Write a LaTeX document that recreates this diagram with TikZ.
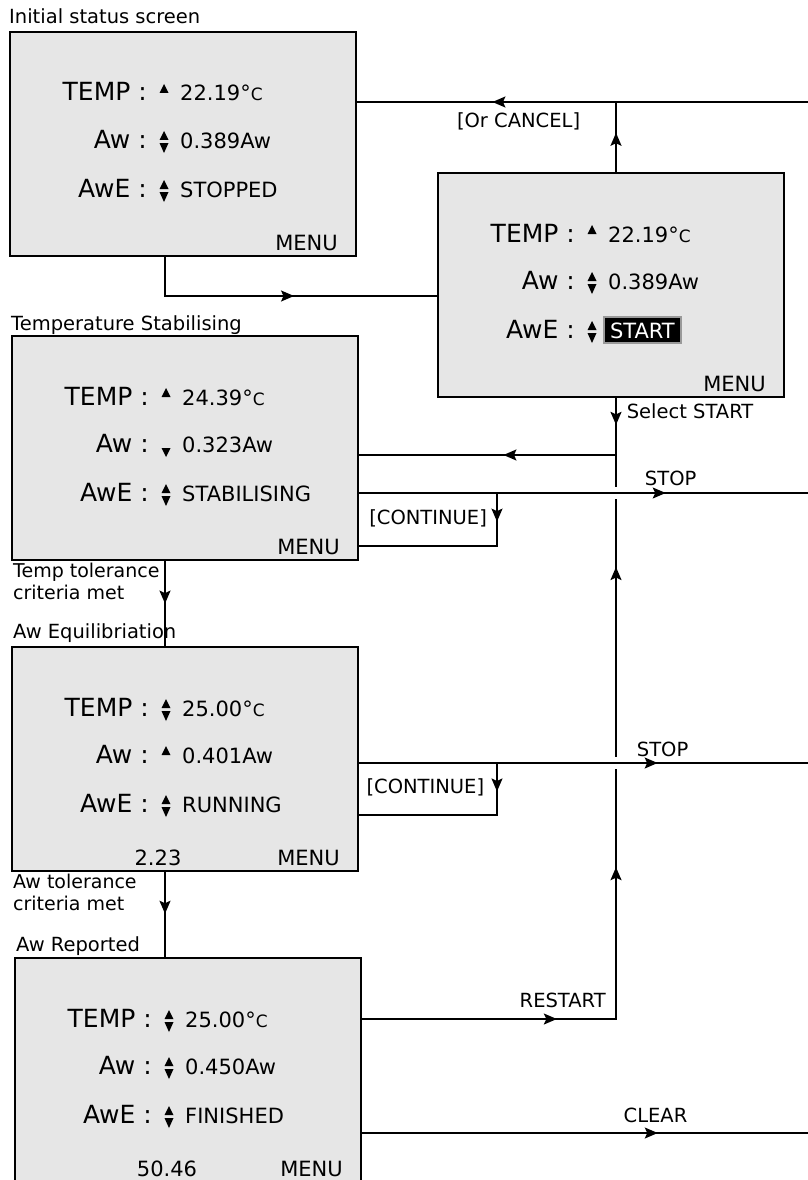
\documentclass[tikz,border=0pt]{standalone}
\usepackage{fontspec}
\setmainfont{DejaVu Sans}
\usetikzlibrary{arrows.meta,decorations.markings}
\definecolor{screengray}{RGB}{230,230,230}
\newcommand{\degC}{°{\fontsize{17}{17}\selectfont C}}
\newcommand{\iconup}[1]{\fill #1 ++(-4.5,-8) -- ++(9,0) -- ++(-4.5,-9) -- cycle;}
\newcommand{\icondown}[1]{\fill #1 ++(-4.5,-4) -- ++(9,0) -- ++(-4.5,9) -- cycle;}
\newcommand{\iconupdown}[1]{\iconup{#1}\fill #1 ++(-4.5,-5) -- ++(9,0) -- ++(-4.5,10) -- cycle;}
\tikzset{
  flowtip/.tip={Stealth[length=13pt,width=11pt,inset=2.5pt]},
  screen/.style={shape=rectangle, draw=black, fill=screengray, line width=2.2pt, minimum width=346pt, minimum height=224pt, anchor=north west},
  field/.style={anchor=base east, inner sep=0pt, font=\fontsize{25}{30}\selectfont},
  reading/.style={anchor=base west, inner sep=0pt, font=\fontsize{21}{25}\selectfont},
  menu/.style={anchor=base east, inner sep=0pt, font=\fontsize{21}{25}\selectfont},
  hilite/.style={anchor=base west, fill=black, text=white, draw=black!40, line width=2pt, inner xsep=6pt, inner ysep=5pt, font=\fontsize{21}{25}\selectfont},
  title/.style={anchor=base west, inner sep=0pt, font=\fontsize{19.5}{23}\selectfont},
  tag/.style={anchor=base, inner sep=0pt, font=\fontsize{19.5}{23}\selectfont},
  note/.style={anchor=north west, align=left, inner sep=0pt, font=\fontsize{19}{22}\selectfont},
  flow/.style={draw=black, line width=1.6pt},
  tipat/.style={postaction={decorate, decoration={markings, mark=at position #1 with {\arrow{flowtip}}}}}
}
\begin{document}
\begin{tikzpicture}[x=1pt, y=-1pt]
  \useasboundingbox (0,0) rectangle (808,1180);
  % screens
  \node[screen] (initial) at (9,31) {};
  \node[title] (initialtitle) at (9,24) {Initial status screen};
  \node[field] (initialtemp) at (147,101) {TEMP :};
  \node[field] (initialaw) at (147,148) {Aw :};
  \node[field] (initialawe) at (147,197) {AwE :};
  \iconup{(164,101)} \iconupdown{(164,148)} \iconupdown{(164,197)}
  \node[reading] (initialtempval) at (180,101) {22.19\degC};
  \node[reading] (initialawval) at (180,148) {0.389Aw};
  \node[reading] (initialaweval) at (180,197) {STOPPED};
  \node[menu] (initialmenu) at (338,250) {MENU};

  \node[screen] (start) at (437,172) {};
  \node[field] (starttemp) at (575,242) {TEMP :};
  \node[field] (startaw) at (575,289) {Aw :};
  \node[field] (startawe) at (575,338) {AwE :};
  \iconup{(592,242)} \iconupdown{(592,289)} \iconupdown{(592,338)}
  \node[reading] (starttempval) at (608,242) {22.19\degC};
  \node[reading] (startawval) at (608,289) {0.389Aw};
  \node[hilite] (startaweval) at (603,338) {START};
  \node[menu] (startmenu) at (766,391) {MENU};

  \node[screen] (stab) at (11,335) {};
  \node[title] (stabtitle) at (11,330) {Temperature Stabilising};
  \node[field] (stabtemp) at (149,405) {TEMP :};
  \node[field] (stabaw) at (149,452) {Aw :};
  \node[field] (stabawe) at (149,501) {AwE :};
  \iconup{(166,405)} \icondown{(166,452)} \iconupdown{(166,501)}
  \node[reading] (stabtempval) at (182,405) {24.39\degC};
  \node[reading] (stabawval) at (182,452) {0.323Aw};
  \node[reading] (stabaweval) at (182,501) {STABILISING};
  \node[menu] (stabmenu) at (340,554) {MENU};

  \node[screen] (equil) at (11,646) {};
  \node[title] (equiltitle) at (13,638) {Aw Equilibriation};
  \node[field] (equiltemp) at (149,716) {TEMP :};
  \node[field] (equilaw) at (149,763) {Aw :};
  \node[field] (equilawe) at (149,812) {AwE :};
  \iconupdown{(166,716)} \iconup{(166,763)} \iconupdown{(166,812)}
  \node[reading] (equiltempval) at (182,716) {25.00\degC};
  \node[reading] (equilawval) at (182,763) {0.401Aw};
  \node[reading] (equilaweval) at (182,812) {RUNNING};
  \node[menu, anchor=base] (equiltime) at (158,865) {2.23};
  \node[menu] (equilmenu) at (340,865) {MENU};

  \node[screen, minimum height=226pt] (report) at (14,957) {};
  \node[title] (reporttitle) at (16,951) {Aw Reported};
  \node[field] (reporttemp) at (152,1027) {TEMP :};
  \node[field] (reportaw) at (152,1074) {Aw :};
  \node[field] (reportawe) at (152,1123) {AwE :};
  \iconupdown{(169,1027)} \iconupdown{(169,1074)} \iconupdown{(169,1123)}
  \node[reading] (reporttempval) at (185,1027) {25.00\degC};
  \node[reading] (reportawval) at (185,1074) {0.450Aw};
  \node[reading] (reportaweval) at (185,1123) {FINISHED};
  \node[menu, anchor=base] (reporttime) at (167,1176) {50.46};
  \node[menu] (reportmenu) at (343,1176) {MENU};

  % connector levels
  \coordinate (drop) at (165,0);
  \coordinate (spine) at (616,0);
  \coordinate (loopx) at (497,0);
  \coordinate (topin) at (808,102);
  \coordinate (feed) at (0,296);
  \coordinate (back) at (0,455);
  \coordinate (stopout1) at (808,493);
  \coordinate (cont1) at (0,546);
  \coordinate (stopout2) at (808,763);
  \coordinate (cont2) at (0,815);
  \coordinate (restart) at (0,1019);
  \coordinate (clearout) at (808,1133);

  % connectors
  \draw[flow, tipat=0.54] (initial.south -| drop) |- (start.west |- feed);
  \draw[flow, tipat=0.70] (topin) -- node[tag, pos=0.642, yshift=-26pt] (cancel) {[Or CANCEL]} (initial.east |- topin);
  \draw[flow, tipat=0.56] (start.north -| spine) -- (spine |- topin);
  \draw[flow, tipat=0.085, tipat=0.54] (start.south -| spine) |- node[tag, pos=0.18, anchor=base west, xshift=10pt] (select) {Select START} (stab.east |- back);
  \draw[flow, tipat=0.238, tipat=0.496, tipat=0.863] (report.east |- restart) -| node[tag, pos=0.395, yshift=12pt] (restarttag) {RESTART} (spine |- back);
  \draw[white, line width=5pt] (spine |- stopout1) ++(0,-6) -- ++(0,12);
  \draw[white, line width=5pt] (spine |- stopout2) ++(0,-6) -- ++(0,12);
  \draw[flow, tipat=0.683] (stab.east |- stopout1) -- node[tag, pos=0.694, yshift=8pt] (stop1) {STOP} (stopout1);
  \draw[flow, tipat=0.15] (loopx |- stopout1) |- node[tag, pos=0.75, yshift=22pt] (cont1tag) {[CONTINUE]} (stab.east |- cont1);
  \draw[flow, tipat=0.5] (stab.south -| drop) -- (equil.north -| drop);
  \node[note] (temptol) at (13,563) {Temp tolerance\\criteria met};
  \draw[flow, tipat=0.665] (equil.east |- stopout2) -- node[tag, pos=0.676, yshift=7pt] (stop2) {STOP} (stopout2);
  \draw[flow, tipat=0.15] (loopx |- stopout2) |- node[tag, pos=0.76, yshift=22pt] (cont2tag) {[CONTINUE]} (equil.east |- cont2);
  \draw[flow, tipat=0.49] (equil.south -| drop) -- (report.north -| drop);
  \node[note] (awtol) at (13,874) {Aw tolerance\\criteria met};
  \draw[flow, tipat=0.663] (report.east |- clearout) -- node[tag, pos=0.658, yshift=11pt] (cleartag) {CLEAR} (clearout);
\end{tikzpicture}
\end{document}
